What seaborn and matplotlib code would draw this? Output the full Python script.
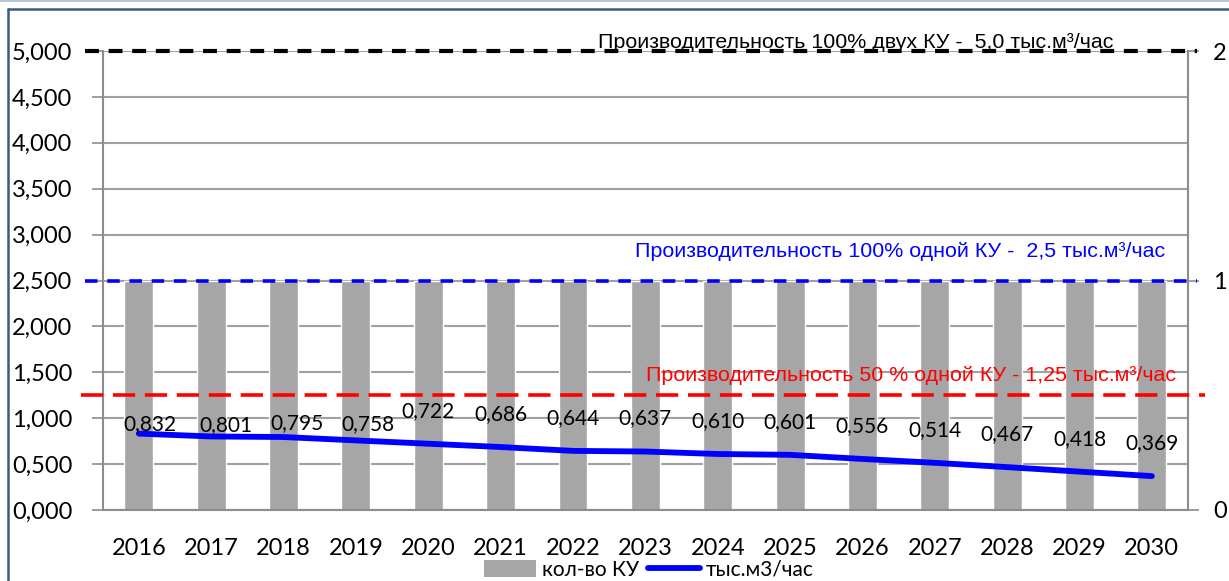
import numpy as np
import matplotlib
matplotlib.use("Agg")
import matplotlib.pyplot as plt
from matplotlib.patches import Patch
from matplotlib.lines import Line2D
import seaborn as sns

# --- data -------------------------------------------------------------
years = ["2016", "2017", "2018", "2019", "2020", "2021", "2022", "2023",
         "2024", "2025", "2026", "2027", "2028", "2029", "2030"]
boiler_count = [1, 1, 1, 1, 1, 1, 1, 1, 1, 1, 1, 1, 1, 1, 1]          # кол-во КУ
flow = [0.832, 0.801, 0.795, 0.758, 0.722, 0.686, 0.644, 0.637,
        0.610, 0.601, 0.556, 0.514, 0.467, 0.418, 0.369]              # тыс.м3/час
cap_two = 5.0      # 100% двух КУ
cap_one = 2.5      # 100% одной КУ
cap_half = 1.25    # 50% одной КУ
left_ticks = [0.0, 0.5, 1.0, 1.5, 2.0, 2.5, 3.0, 3.5, 4.0, 4.5, 5.0]
right_ticks = [0, 1, 2]

# --- style ------------------------------------------------------------
sns.set_style("white")
plt.rcParams["font.family"] = ["Lato", "DejaVu Sans"]
plt.rcParams["lines.scale_dashes"] = False
plt.rcParams["text.color"] = "black"
plt.rcParams["xtick.labelcolor"] = "black"
plt.rcParams["ytick.labelcolor"] = "black"

W, H, DPI = 1229, 581, 100
fig = plt.figure(figsize=(W / DPI, H / DPI), dpi=DPI)
fig.patch.set_facecolor("white")

x0, x1, ybot, ytop = 102.7, 1188, 510, 51
ax = fig.add_axes([x0 / W, 1 - ybot / H, (x1 - x0) / W, (ybot - ytop) / H])
ax_bar = ax.twinx()
ax.set_zorder(ax_bar.get_zorder() + 1)
ax.patch.set_visible(False)

grid_c = "#A0A0A0"
spine_c = "#8C8C8C"
pos = np.arange(len(years))

# bars on the secondary axis
sns.barplot(x=years, y=boiler_count, ax=ax_bar, color="#A6A6A6",
            saturation=1, width=0.4, zorder=2)
ax_bar.set_ylim(0, 2)
ax_bar.set_yticks(right_ticks)
ax_bar.set_yticks(np.arange(0, 2.01, 0.2), minor=True)
ax_bar.grid(True, which="both", axis="y", color=grid_c, lw=1.5, zorder=0)
ax_bar.set_axisbelow(True)
ax_bar.tick_params(axis="y", which="minor", length=0)
ax_bar.tick_params(axis="y", which="major", direction="out", length=8,
                   width=1.2, color=spine_c, right=True, pad=10,
                   labelsize=17, labelcolor="black")
ax_bar.set_xlabel("")
ax_bar.set_ylabel("")

# flow line on the primary axis
sns.lineplot(x=pos, y=flow, ax=ax, color="#0000FF", lw=4.2, zorder=5,
             solid_capstyle="round", legend=False)
ax.set_ylim(0, 5)
ax.set_xlim(-0.5, len(years) - 0.5)
ax.set_yticks(left_ticks)
ax.set_yticklabels([f"{v:.3f}".replace(".", ",") for v in left_ticks])
ax.tick_params(axis="y", direction="out", length=8, width=1.2,
               color=spine_c, left=True, pad=14, labelsize=17,
               labelcolor="black")

# category axis: ticks at the boundaries, labels at centres
ax.set_xticks(np.arange(-0.5, len(years), 1.0))
ax.set_xticklabels([])
ax.set_xticks(pos, minor=True)
ax.set_xticklabels(years, minor=True)
ax.tick_params(axis="x", which="major", direction="out", length=8,
               width=1.2, color=spine_c, bottom=True)
ax.tick_params(axis="x", which="minor", length=0, pad=20, labelsize=17,
               labelcolor="black")
ax_bar.set_xticks([])
ax.set_xlabel("")
ax.set_ylabel("")

for a in (ax, ax_bar):
    for s in a.spines.values():
        s.set_visible(False)
for side in ("left", "right", "bottom"):
    ax_bar.spines[side].set_visible(True)
    ax_bar.spines[side].set_color(spine_c)
    ax_bar.spines[side].set_linewidth(1.5)

# value labels above the line
label_shift = [(11, 10), (15, 11), (13, 14), (12, 16)] + [(0, 33)] * 11
for i, (v, (dx, dy)) in enumerate(zip(flow, label_shift)):
    ax.annotate(f"{v:.3f}".replace(".", ","), (i, v), xytext=(dx, dy),
                textcoords="offset pixels", ha="center", va="center",
                fontsize=15, color="black", zorder=6)

# capacity reference lines (extend a little past the plot frame)
ax.plot([-0.745, 14.62], [cap_two, cap_two], color="black", lw=3,
        dashes=(10, 7), clip_on=False, zorder=7)
ax.plot([-0.745, 14.62], [cap_one, cap_one], color="#0000FF", lw=2.6,
        dashes=(9, 7), clip_on=False, zorder=7)
ax.plot([-0.80, 14.73], [cap_half, cap_half], color="#FF0000", lw=2.6,
        dashes=(16, 7), clip_on=False, zorder=7)

ann_font = ["Liberation Sans", "DejaVu Sans"]
ax.text(9.91, cap_two + 0.03, "Производительность 100% двух КУ -  5,0 тыс.м³/час",
        ha="center", va="baseline", fontsize=15.4, color="black",
        family=ann_font, zorder=8)
ax.text(10.52, 2.82, "Производительность 100% одной КУ -  2,5 тыс.м³/час",
        ha="center", va="center", fontsize=15.4, color="#0000FF",
        family=ann_font, zorder=8)
ax.text(10.67, 1.46, "Производительность 50 % одной КУ - 1,25 тыс.м³/час",
        ha="center", va="center", fontsize=15.4, color="#FF0000",
        family=ann_font, zorder=8)

# legend under the category labels
handles = [Patch(facecolor="#A6A6A6", edgecolor="none"),
           Line2D([0], [0], color="#0000FF", lw=4.2, solid_capstyle="round")]
fig.legend(handles, ["кол-во КУ", "тыс.м3/час"], loc="center",
           bbox_to_anchor=(0.528, 1 - 570 / H), ncol=2, frameon=False,
           handlelength=2.5, handleheight=0.9,
           handletextpad=0.3, columnspacing=0.4,
           prop={"family": ["Lato", "DejaVu Sans"], "size": 15})

# chart frame
fig.add_artist(Line2D([8 / W, 8 / W], [0, 1 - 9 / H], color="#3B5B86",
                      lw=1.8, transform=fig.transFigure))
fig.add_artist(Line2D([8 / W, 1], [1 - 9 / H, 1 - 9 / H], color="#3B5B86",
                      lw=1.8, transform=fig.transFigure))
fig.add_artist(Line2D([0, 1], [1 - 0.5 / H, 1 - 0.5 / H], color="#A9BACB",
                      lw=1.2, transform=fig.transFigure))

fig.savefig("out.png", dpi=DPI, facecolor="white")
